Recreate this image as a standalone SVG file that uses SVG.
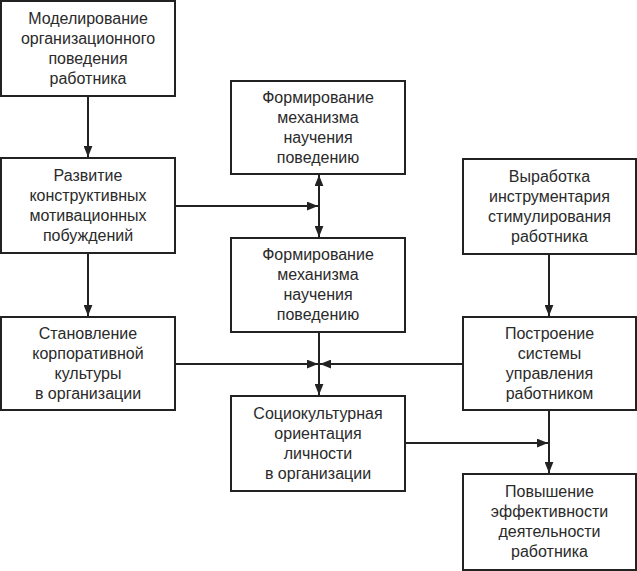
<svg xmlns="http://www.w3.org/2000/svg" width="637" height="571" viewBox="0 0 637 571">
<defs>
<style>
.box{fill:#fff;stroke:#222;stroke-width:2}
.t{font-family:"Liberation Sans",Arial,sans-serif;font-size:16px;fill:#2a2a2a;text-anchor:middle}
.c{fill:none;stroke:#222;stroke-width:2}
</style>
<marker id="ah" viewBox="0 0 10 8" refX="10" refY="4" markerWidth="11" markerHeight="9" markerUnits="userSpaceOnUse" orient="auto">
<path d="M0,0 L10,4 L0,8 Z" fill="#222"/>
</marker>
</defs>
<rect width="637" height="571" fill="#fff"/>
<g id="connectors">
<path class="c" d="M88,96 V157" marker-end="url(#ah)"/>
<path class="c" d="M88,253 V316" marker-end="url(#ah)"/>
<path class="c" d="M175,206 H318" marker-end="url(#ah)"/>
<path class="c" d="M319,206 V175" marker-end="url(#ah)"/>
<path class="c" d="M319,206 V237" marker-end="url(#ah)"/>
<path class="c" d="M175,364 H318" marker-end="url(#ah)"/>
<path class="c" d="M463,364 H320" marker-end="url(#ah)"/>
<path class="c" d="M319,332 V395" marker-end="url(#ah)"/>
<path class="c" d="M549,254 V316" marker-end="url(#ah)"/>
<path class="c" d="M405,443 H548" marker-end="url(#ah)"/>
<path class="c" d="M549,410 V473" marker-end="url(#ah)"/>
</g>
<g id="n1"><rect class="box" x="1" y="1" width="174" height="95"/>
<text class="t"><tspan x="88" y="24">Моделирование</tspan><tspan x="88" y="44">организационного</tspan><tspan x="88" y="64">поведения</tspan><tspan x="88" y="84">работника</tspan></text></g>
<g id="n2"><rect class="box" x="1" y="158" width="174" height="95"/>
<text class="t"><tspan x="88" y="181">Развитие</tspan><tspan x="88" y="201">конструктивных</tspan><tspan x="88" y="221">мотивационных</tspan><tspan x="88" y="241">побуждений</tspan></text></g>
<g id="n3"><rect class="box" x="1" y="317" width="174" height="93"/>
<text class="t"><tspan x="88" y="339">Становление</tspan><tspan x="88" y="359">корпоративной</tspan><tspan x="88" y="379">культуры</tspan><tspan x="88" y="399">в организации</tspan></text></g>
<g id="n4"><rect class="box" x="231" y="81" width="174" height="93"/>
<text class="t"><tspan x="318" y="103">Формирование</tspan><tspan x="318" y="123">механизма</tspan><tspan x="318" y="143">научения</tspan><tspan x="318" y="163">поведению</tspan></text></g>
<g id="n5"><rect class="box" x="231" y="238" width="174" height="94"/>
<text class="t"><tspan x="318" y="260">Формирование</tspan><tspan x="318" y="280">механизма</tspan><tspan x="318" y="300">научения</tspan><tspan x="318" y="320">поведению</tspan></text></g>
<g id="n6"><rect class="box" x="231" y="396" width="174" height="95"/>
<text class="t"><tspan x="318" y="419">Социокультурная</tspan><tspan x="318" y="439">ориентация</tspan><tspan x="318" y="459">личности</tspan><tspan x="318" y="479">в организации</tspan></text></g>
<g id="n7"><rect class="box" x="463" y="159" width="173" height="95"/>
<text class="t"><tspan x="549.5" y="182">Выработка</tspan><tspan x="549.5" y="202">инструментария</tspan><tspan x="549.5" y="222">стимулирования</tspan><tspan x="549.5" y="242">работника</tspan></text></g>
<g id="n8"><rect class="box" x="463" y="317" width="173" height="93"/>
<text class="t"><tspan x="549.5" y="339">Построение</tspan><tspan x="549.5" y="359">системы</tspan><tspan x="549.5" y="379">управления</tspan><tspan x="549.5" y="399">работником</tspan></text></g>
<g id="n9"><rect class="box" x="463" y="474" width="173" height="96"/>
<text class="t"><tspan x="549.5" y="497">Повышение</tspan><tspan x="549.5" y="517">эффективности</tspan><tspan x="549.5" y="537">деятельности</tspan><tspan x="549.5" y="557">работника</tspan></text></g>
</svg>
